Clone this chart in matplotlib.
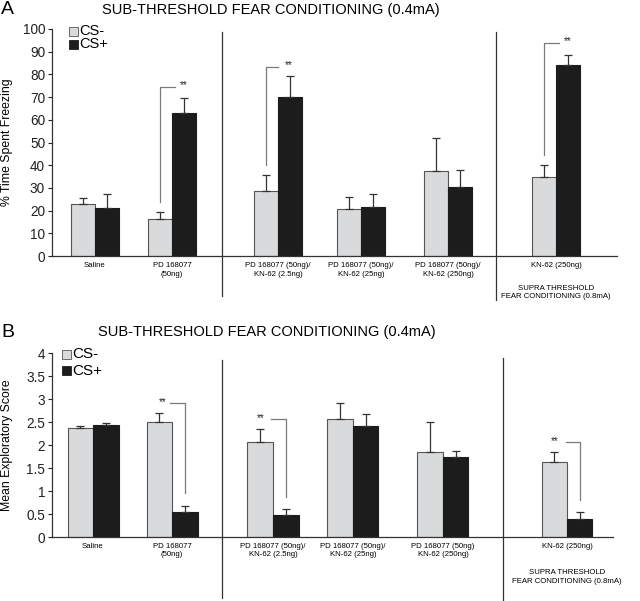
import matplotlib
matplotlib.use("Agg")
import matplotlib.pyplot as plt
from matplotlib.patches import Rectangle
import numpy as np

plt.rcParams['font.family'] = ['Liberation Sans', 'DejaVu Sans']

# ---- data ----
categories = ["Saline", "PD 168077\n(50ng)", "PD 168077 (50ng)/\nKN-62 (2.5ng)",
              "PD 168077 (50ng)/\nKN-62 (25ng)", "PD 168077 (50ng)/\nKN-62 (250ng)",
              "KN-62 (250ng)"]
categories_b = ["Saline", "PD 168077\n(50ng)", "PD 168077 (50ng)/\nKN-62 (2.5ng)",
                "PD 168077 (50ng)/\nKN-62 (25ng)", "PD 168077 (50ng)\nKN-62 (250ng)",
                "KN-62 (250ng)"]
freeze_csm = [23.1, 16.5, 28.7, 20.6, 37.5, 35.0]
freeze_csm_err = [2.6, 2.9, 7.2, 5.4, 14.4, 4.9]
freeze_csp = [21.3, 62.8, 69.9, 21.5, 30.6, 84.1]
freeze_csp_err = [5.9, 6.9, 9.5, 6.0, 7.3, 4.3]
explore_csm = [2.38, 2.50, 2.07, 2.57, 1.86, 1.63]
explore_csm_err = [0.03, 0.21, 0.29, 0.34, 0.65, 0.22]
explore_csp = [2.44, 0.54, 0.49, 2.43, 1.74, 0.40]
explore_csp_err = [0.04, 0.15, 0.13, 0.24, 0.13, 0.15]
title = "SUB-THRESHOLD FEAR CONDITIONING (0.4mA)"
supra = "SUPRA THRESHOLD\nFEAR CONDITIONING (0.8mA)"

# ---- layout ----
W, H = 640, 601
fig = plt.figure(figsize=(6.4, 6.01), dpi=100)
C_LIGHT = "#d9dadb"
C_DARK = "#1c1c1c"
C_EDGE = "#555555"
C_BRK = "#7a7a7a"

def px_axes(x0, x1, ytop, ybot):
    return fig.add_axes([x0 / W, 1 - ybot / H, (x1 - x0) / W, (ybot - ytop) / H])

def panel(ax, xmax, centers, bw, csm, csm_e, csp, csp_e, ylim, yticks, ylabel, cats,
          dividers, div_y, brackets, lab_y, supra_y, legend_pos, leg_fs):
    ax.set_xlim(0, xmax)
    ax.set_ylim(*ylim)
    c = np.array(centers, dtype=float)
    ax.bar(c - bw / 2, csm, bw, color=C_LIGHT, edgecolor=C_EDGE, linewidth=0.8, zorder=2)
    ax.bar(c + bw / 2, csp, bw, color=C_DARK, edgecolor=C_DARK, linewidth=0.8, zorder=2)
    ax.errorbar(c - bw / 2, csm, yerr=[np.zeros(len(csm)), csm_e], fmt='none',
                ecolor="#333333", elinewidth=0.9, capsize=3.2, capthick=0.9, zorder=3)
    ax.errorbar(c + bw / 2, csp, yerr=[np.zeros(len(csp)), csp_e], fmt='none',
                ecolor="#333333", elinewidth=0.9, capsize=3.2, capthick=0.9, zorder=3)
    for s in ['top', 'right']:
        ax.spines[s].set_visible(False)
    for s in ['left', 'bottom']:
        ax.spines[s].set_color("#333333")
        ax.spines[s].set_linewidth(0.9)
    ax.set_yticks(yticks)
    ax.set_yticklabels([("%g" % t) for t in yticks], fontsize=9.8)
    ax.tick_params(axis='y', direction='out', length=3, width=0.8, pad=2, colors="#222222")
    ax.set_xticks([])
    ax.set_ylabel(ylabel, fontsize=8.8)
    ax.yaxis.set_label_coords(-38.5 / xmax, 0.5)
    for d, (y0, y1) in zip(dividers, div_y):
        ax.plot([d, d], [y0, y1], color="#333333", lw=0.9, clip_on=False, zorder=1)
    for i, lab in enumerate(cats):
        ax.text(c[i], lab_y, lab, ha='center', va='top', fontsize=5.6,
                transform=ax.transData, clip_on=False, linespacing=1.25)
    ax.text(c[5], supra_y, supra, ha='center', va='top', fontsize=5.6,
            clip_on=False, linespacing=1.25)
    for (xs, ys, sx, sy) in brackets:
        ax.plot(xs, ys, color=C_BRK, lw=0.9, clip_on=False)
        ax.text(sx, sy, "**", ha='center', va='center', fontsize=7, color="#222222")
    lx, ly, dy, sq_w, sq_h = legend_pos
    for k, (col, lab) in enumerate([(C_LIGHT, "CS-"), (C_DARK, "CS+")]):
        yy = ly - k * dy
        ax.add_patch(Rectangle((lx, yy - sq_h / 2), sq_w, sq_h, facecolor=col,
                               edgecolor=C_EDGE if k == 0 else C_DARK, lw=0.6,
                               clip_on=False, zorder=4))
        ax.text(lx + sq_w + 1.5, yy, lab, fontsize=leg_fs, va='center', ha='left')

# Panel A
axA = px_axes(52, 617, 29, 256)
cA = [43, 120, 226, 309, 396, 504]
bwA = 24
brA = [
    ([cA[1] - bwA / 2] * 2 + [cA[1] + 3], [23.8, 74.6, 74.6], cA[1] + 12, 75.2),
    ([cA[2] - bwA / 2] * 2 + [cA[2] + 0], [40.3, 83.4, 83.4], cA[2] + 11, 84.0),
    ([cA[5] - bwA / 2] * 2 + [cA[5] + 3], [44.7, 94.0, 94.0], cA[5] + 12, 94.6),
]
panel(axA, 565, cA, bwA, freeze_csm, freeze_csm_err, freeze_csp, freeze_csp_err,
      (0, 100), list(range(0, 101, 10)), "% Time Spent Freezing", categories,
      [170, 444], [(98.7, -17.5), (98.7, -19.5)], brA, -2.8, -12.8,
      (17, 99.0, 5.8, 9, 3.8), 10.5)
fig.text(1 / W, 1 - 9 / H, "A", fontsize=14, va='center', ha='left')
fig.text(271 / W, 1 - 10 / H, title, fontsize=10.5, va='center', ha='center')

# Panel B
axB = px_axes(52, 613, 353.3, 537.3)
cB = [41, 120, 221, 301, 391, 515]
bwB = 25.5
brB = [
    ([cB[1] - 2, cB[1] + bwB / 2, cB[1] + bwB / 2], [2.91, 2.91, 0.96], cB[1] - 9, 2.93),
    ([cB[2] - 2, cB[2] + bwB / 2, cB[2] + bwB / 2], [2.57, 2.57, 0.88], cB[2] - 12, 2.59),
    ([cB[5] - 1, cB[5] + bwB / 2, cB[5] + bwB / 2], [2.08, 2.08, 0.81], cB[5] - 12, 2.10),
]
panel(axB, 561, cB, bwB, explore_csm, explore_csm_err, explore_csp, explore_csp_err,
      (0, 4), [0, 0.5, 1, 1.5, 2, 2.5, 3, 3.5, 4], "Mean Exploratory Score", categories_b,
      [170, 451], [(3.85, -1.32), (3.9, -1.36)], brB, -0.12, -0.7,
      (10, 3.98, 0.36, 9, 0.2), 11)
fig.text(1 / W, 1 - 333 / H, "B", fontsize=14, va='center', ha='left')
fig.text(267 / W, 1 - 332 / H, title, fontsize=10.5, va='center', ha='center')

fig.savefig("out.png", dpi=100)
